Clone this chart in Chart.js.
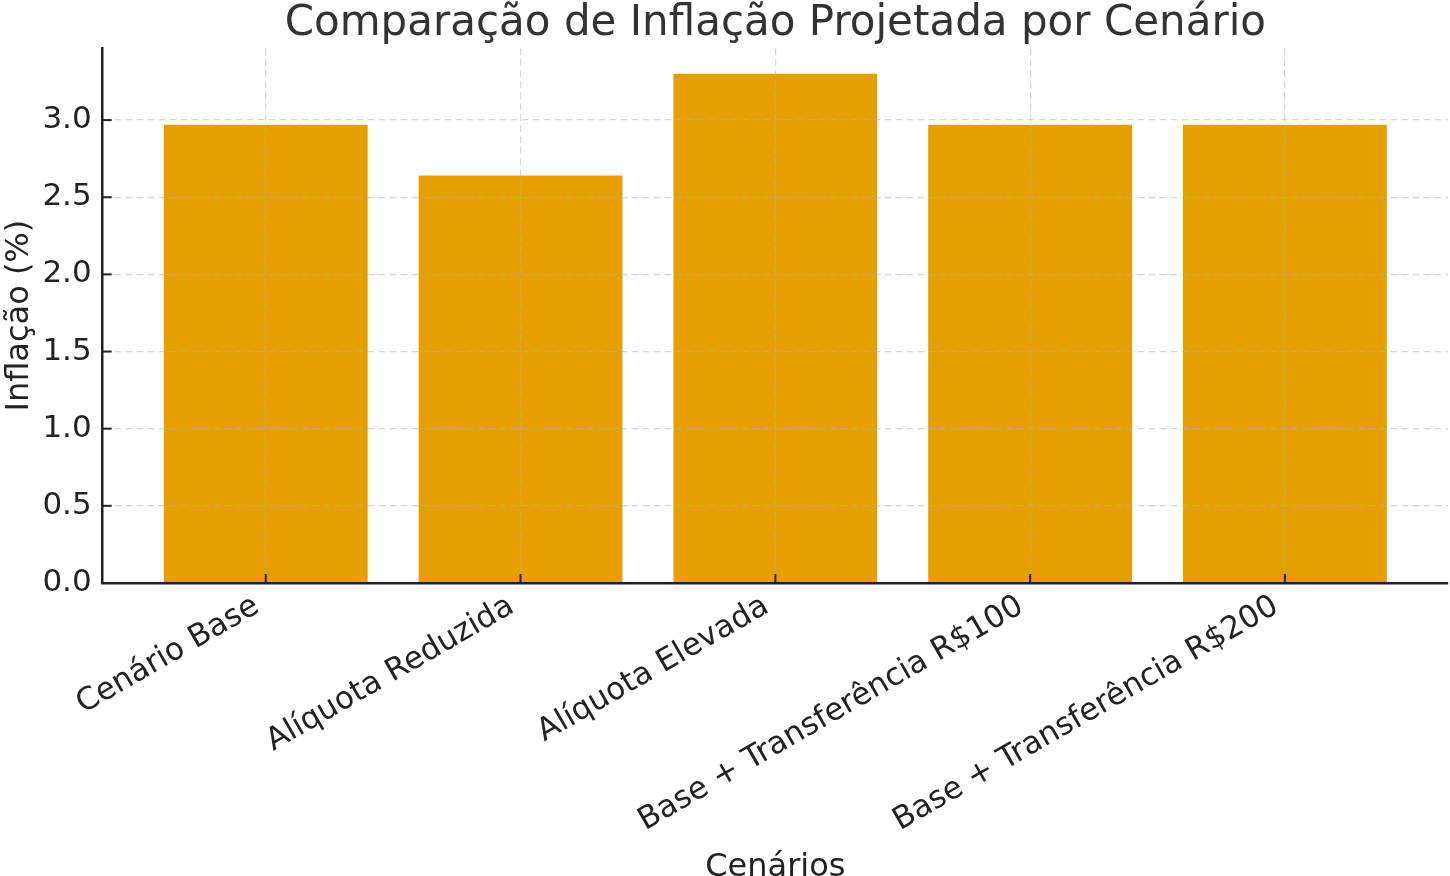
<!DOCTYPE html>
<html>
<head>
<meta charset="utf-8">
<title>Comparação de Inflação Projetada por Cenário</title>
<script src="https://cdn.jsdelivr.net/npm/chart.js@4/dist/chart.umd.min.js"></script>
<style>
  html, body { margin: 0; padding: 0; background: #fff; }
  #wrap { width: 1450px; height: 876px; position: relative; }
</style>
</head>
<body>
<div id="wrap"><canvas id="grafico"></canvas></div>
<script>
// dados
const cenarios = ['Cenário Base', 'Alíquota Reduzida', 'Alíquota Elevada', 'Base + Transferência R$100', 'Base + Transferência R$200'];
const inflacao = [2.97, 2.64, 3.30, 2.97, 2.97];
const yTickValues = [0.0, 0.5, 1.0, 1.5, 2.0, 2.5, 3.0];
const yMax = 3.465;

const fonte = 'DejaVu Sans';
const corBarra = '#E69F00';
const corGrade = 'rgba(176,176,176,0.5)';
const corEixo = '#222';

// ticks para dentro, como no matplotlib
const ticksInternos = {
    id: 'ticksInternos',
    afterDraw(chart) {
        const ctx = chart.ctx;
        const xs = chart.scales.x, ys = chart.scales.y;
        const area = chart.chartArea;
        ctx.save();
        ctx.strokeStyle = corEixo;
        ctx.lineWidth = 2;
        ys.ticks.forEach(t => {
            const py = ys.getPixelForValue(t.value);
            ctx.beginPath();
            ctx.moveTo(area.left, py);
            ctx.lineTo(area.left + 9, py);
            ctx.stroke();
        });
        xs.ticks.forEach(t => {
            const px = xs.getPixelForValue(t.value);
            ctx.beginPath();
            ctx.moveTo(px, area.bottom);
            ctx.lineTo(px, area.bottom - 9);
            ctx.stroke();
        });
        ctx.restore();
    }
};

const pontos = cenarios.map((c, i) => ({ x: i, y: inflacao[i] }));

new Chart(document.getElementById('grafico'), {
    type: 'bar',
    data: {
        datasets: [{
            label: 'Inflação (%)',
            data: pontos,
            backgroundColor: corBarra,
            borderWidth: 0,
            categoryPercentage: 0.8,
            barPercentage: 1.0
        }]
    },
    options: {
        responsive: true,
        maintainAspectRatio: false,
        animation: false,
        layout: { padding: { left: 0, right: 2, top: 0, bottom: -10 } },
        plugins: {
            legend: { display: false },
            tooltip: { enabled: false },
            title: {
                display: true,
                fullSize: false,
                text: 'Comparação de Inflação Projetada por Cenário',
                color: '#333',
                font: { family: fonte, size: 42, weight: 'normal', lineHeight: 1.15 },
                padding: { top: 0, bottom: 0 }
            }
        },
        scales: {
            x: {
                type: 'linear',
                min: -0.64,
                max: 4.64,
                offset: false,
                afterBuildTicks: s => { s.ticks = cenarios.map((c, i) => ({ value: i })); },
                ticks: {
                    autoSkip: false,
                    minRotation: 30,
                    maxRotation: 30,
                    padding: 5,
                    labelOffset: -9,
                    color: corEixo,
                    font: { family: fonte, size: 31 },
                    callback: v => cenarios[v]
                },
                grid: {
                    offset: false,
                    drawTicks: false,
                    color: corGrade,
                    lineWidth: 1.2,
                    z: 1
                },
                border: { display: true, color: corEixo, width: 2.5, dash: [7, 4], z: 2 },
                title: {
                    display: true,
                    text: 'Cenários',
                    color: corEixo,
                    font: { family: fonte, size: 32 },
                    padding: { top: 4, bottom: -1 }
                }
            },
            y: {
                min: 0,
                max: yMax,
                afterBuildTicks: s => { s.ticks = yTickValues.map(v => ({ value: v })); },
                ticks: {
                    padding: 11,
                    color: corEixo,
                    font: { family: fonte, size: 31 },
                    callback: v => v.toFixed(1)
                },
                grid: {
                    drawTicks: false,
                    color: corGrade,
                    lineWidth: 1.2,
                    z: 1
                },
                border: { display: true, color: corEixo, width: 2.5, dash: [7, 4], z: 2 },
                title: {
                    display: true,
                    text: 'Inflação (%)',
                    color: corEixo,
                    font: { family: fonte, size: 32 },
                    padding: { top: 0, bottom: -7 }
                }
            }
        }
    },
    plugins: [ticksInternos]
});
</script>
</body>
</html>
